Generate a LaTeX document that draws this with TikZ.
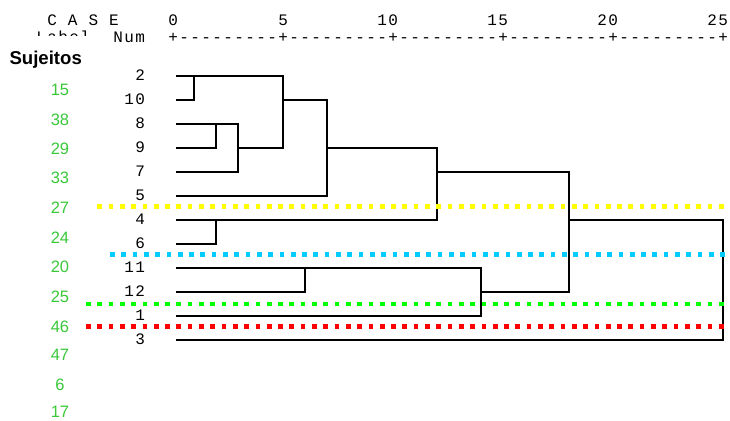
\documentclass[tikz,border=0pt]{standalone}
\usepackage{fontspec}
\setmainfont{Liberation Sans}
\newfontfamily\spssmono[LetterSpace=8.75,Ligatures=TeXOff]{Liberation Mono}
\newfontfamily\headsans{Liberation Sans}
\definecolor{subjgreen}{RGB}{58,200,58}
\definecolor{cutyellow}{RGB}{255,255,0}
\definecolor{cutcyan}{RGB}{0,204,255}
\definecolor{cutgreen}{RGB}{0,255,0}
\definecolor{cutred}{RGB}{255,0,0}
\begin{document}
\begin{tikzpicture}[x=1pt,y=-1pt,
  mono/.style={font=\spssmono\fontsize{16}{18}\selectfont, inner sep=0pt, anchor=base west},
  subj/.style={font=\headsans\fontsize{16.5}{18}\selectfont, text=subjgreen, inner sep=0pt, anchor=base},
  link/.style={line width=2pt, line cap=rect},
  cutline/.style={line width=4.7pt, dash pattern=on 4.7pt off 6.6pt},
]
\useasboundingbox (0,0) rectangle (730,420);
% character grid of the listing: column i sits at 173 + 11 i
\def\col#1{\fpeval{173+11*(#1)-4.8}}

% header rows
\node[mono] (hcase) at (\col{-11},25.5) {C A S E};
\node[mono] (t0)  at (\col{0},25.5)  {0};
\node[mono] (t5)  at (\col{10},25.5) {5};
\node[mono] (t10) at (\col{19},25.5) {10};
\node[mono] (t15) at (\col{29},25.5) {15};
\node[mono] (t20) at (\col{39},25.5) {20};
\node[mono] (t25) at (\col{49},25.5) {25};
\begin{scope}
  \clip (0,25) rectangle (105,35.3);
  \node[mono] (hlabel) at (\col{-12},42) {Label};
\end{scope}
\node[mono] (hnum) at (\col{-5},42) {Num};
\node[mono] (ruler) at (\col{0},42) {+---------+---------+---------+---------+---------+};

% subject column
\node[font=\headsans\bfseries\fontsize{18.6}{20}\selectfont, inner sep=0pt, anchor=base west] (suj) at (9.3,64) {Sujeitos};
\node[subj] (s15) at (60,95.3)  {15};
\node[subj] (s38) at (60,125.3) {38};
\node[subj] (s29) at (60,154.3) {29};
\node[subj] (s33) at (60,183)   {33};
\node[subj] (s27) at (60,213.3) {27};
\node[subj] (s24) at (60,243.3) {24};
\node[subj] (s20) at (60,272.7) {20};
\node[subj] (s25) at (60,302.7) {25};
\node[subj] (s46) at (60,332.7) {46};
\node[subj] (s47) at (60,360)   {47};
\node[subj] (s6)  at (60,390.7) {6};
\node[subj] (s17) at (60,417.8) {17};

% case numbers
\node[mono] (n2)  at (\col{-3},80.7)  {2};
\node[mono] (n10) at (\col{-4},104.7) {10};
\node[mono] (n8)  at (\col{-3},128.7) {8};
\node[mono] (n9)  at (\col{-3},152.7) {9};
\node[mono] (n7)  at (\col{-3},176.7) {7};
\node[mono] (n5)  at (\col{-3},200.7) {5};
\node[mono] (n4)  at (\col{-3},224.7) {4};
\node[mono] (n6)  at (\col{-3},248.7) {6};
\node[mono] (n11) at (\col{-4},272.7) {11};
\node[mono] (n12) at (\col{-4},296.7) {12};
\node[mono] (n1)  at (\col{-3},320.7) {1};
\node[mono] (n3)  at (\col{-3},344.7) {3};

% leaf starts
\coordinate (L2)  at (177,75.7);
\coordinate (L10) at (177,99.7);
\coordinate (L8)  at (177,123.7);
\coordinate (L9)  at (177,147.7);
\coordinate (L7)  at (177,171.7);
\coordinate (L5)  at (177,195.7);
\coordinate (L4)  at (177,219.7);
\coordinate (L6)  at (177,243.7);
\coordinate (L11) at (177,267.7);
\coordinate (L12) at (177,291.7);
\coordinate (L1)  at (177,315.7);
\coordinate (L3)  at (177,339.7);

% merge points (top end of each join)
\coordinate (m2a)  at (194,75.7);
\coordinate (m2b)  at (282.5,75.7);
\coordinate (m8a)  at (216,123.7);
\coordinate (m8b)  at (238,123.7);
\coordinate (m9)   at (238,147.7);
\coordinate (m10)  at (282.5,99.7);
\coordinate (m5)   at (326.7,195.7);
\coordinate (m9b)  at (326.7,147.7);
\coordinate (m4)   at (436.7,219.7);
\coordinate (m6)   at (215.7,219.7);
\coordinate (m7)   at (436.7,171.7);
\coordinate (m11a) at (304.7,267.7);
\coordinate (m11b) at (480.7,267.7);
\coordinate (m12a) at (480.7,291.7);
\coordinate (m12b) at (568.7,291.7);
\coordinate (m4b)  at (568.7,219.7);
\coordinate (m3)   at (723.3,339.7);

% dendrogram
\draw[link] (L2) -- (m2b);
\draw[link] (L10) -| (m2a);
\draw[link] (L8) -- (m8b);
\draw[link] (L9) -| (m8a);
\draw[link] (L7) -| (m8b);
\draw[link] (m9) -| (m2b);
\draw[link] (m10) -| (m5) -- (L5);
\draw[link] (m9b) -| (m4) -- (L4);
\draw[link] (L6) -| (m6);
\draw[link] (m7) -| (m12b) -- (m12a);
\draw[link] (L11) -- (m11b);
\draw[link] (L12) -| (m11a);
\draw[link] (L1) -| (m11b);
\draw[link] (m4b) -| (m3) -- (L3);

% cut levels
\coordinate (cy0) at (97.3,206.7);  \coordinate (cy1) at (730,206.7);
\coordinate (cc0) at (110,254.3);   \coordinate (cc1) at (726,254.3);
\coordinate (cg0) at (86,304);      \coordinate (cg1) at (730,304);
\coordinate (cr0) at (86,326.7);    \coordinate (cr1) at (730,326.7);
\draw[cutline, cutyellow] (cy0) -- (cy1);
\draw[cutline, cutcyan]   (cc0) -- (cc1);
\draw[cutline, cutgreen]  (cg0) -- (cg1);
\draw[cutline, cutred]    (cr0) -- (cr1);
\end{tikzpicture}
\end{document}
